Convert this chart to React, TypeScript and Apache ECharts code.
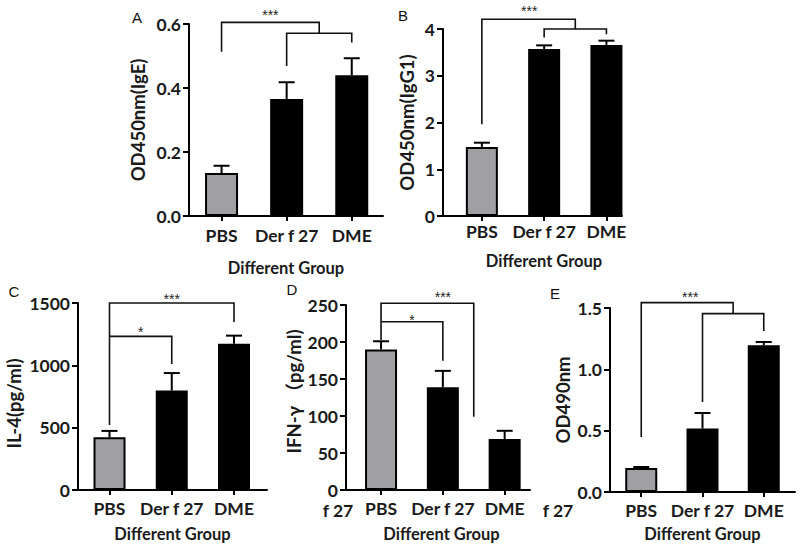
import React, { useEffect, useRef } from "react";
import * as echarts from "echarts";

const CATEGORIES = ["PBS", "Der f 27", "DME"];
const X_POS = [1, 2, 3];

const A_MEAN = [0.134, 0.366, 0.44];
const A_ERR = [0.023, 0.052, 0.053];
const B_MEAN = [1.478, 3.57, 3.66];
const B_ERR = [0.09, 0.08, 0.09];
const C_MEAN = [423, 798, 1173];
const C_ERR = [51, 140, 65];
const D_MEAN = [190, 139, 69];
const D_ERR = [11, 22, 11];
const E_MEAN = [0.196, 0.517, 1.196];
const E_ERR = [0.008, 0.127, 0.027];

// significance brackets (data units: [x, y] points)
const A_BRACKETS = [
  [[1, 0.513], [1, 0.605], [2.5, 0.605], [2.5, 0.571]],
  [[2, 0.469], [2, 0.571], [3, 0.571], [3, 0.542]],
];
const A_STARS = [[1.75, 0.64, "***"]];
const B_BRACKETS = [
  [[1, 1.96], [1, 4.21], [2.5, 4.21], [2.5, 4.0]],
  [[2, 3.82], [2, 4.0], [3, 4.0], [3, 3.89]],
];
const B_STARS = [[1.76, 4.47, "***"]];
const C_BRACKETS = [
  [[1, 522], [1, 1500], [3, 1500], [3, 1347]],
  [[1, 1232], [2, 1232], [2, 1010]],
];
const C_STARS = [[2, 1567, "***"], [1.5, 1299, "*"]];
const D_BRACKETS = [
  [[1, 202.7], [1, 252.3], [2.5, 252.3], [2.5, 99]],
  [[1, 227.4], [2, 227.4], [2, 174.7]],
];
const D_STARS = [[2, 265.8, "***"], [1.5, 235.5, "*"]];
const E_BRACKETS = [
  [[1, 0.448], [1, 1.544], [2.5, 1.544], [2.5, 1.454]],
  [[2, 0.733], [2, 1.454], [3, 1.454], [3, 1.312]],
];
const E_STARS = [[1.8, 1.622, "***"]];

const FONT = "Lato, 'Noto Sans CJK SC', sans-serif";

type Panel = {
  mean: number[];
  err: number[];
  brackets: number[][][];
  stars: any[];
  yName: string;
  yMax: number;
  yInterval: number;
  yDigits: number;
  grid: { left: number; top: number; width: number; height: number };
  xMin: number;
  xMax: number;
  yNameGap: number;
  yNameShiftDown: number;
  xNameGap: number;
  xLabelMargin: number;
  xNameShift: number;
  barWidth: number;
};

const PANELS: Panel[] = [
  {
    mean: A_MEAN, err: A_ERR, brackets: A_BRACKETS, stars: A_STARS,
    yName: "OD450nm(IgE)", yMax: 0.6, yInterval: 0.2, yDigits: 1,
    grid: { left: 189, top: 24, width: 194, height: 192 },
    xMin: 0.5, xMax: 3.48, yNameGap: 42, yNameShiftDown: 0, xNameGap: 43, xLabelMargin: 10, xNameShift: 0, barWidth: 33,
  },
  {
    mean: B_MEAN, err: B_ERR, brackets: B_BRACKETS, stars: B_STARS,
    yName: "OD450nm(IgG1)", yMax: 4, yInterval: 1, yDigits: 0,
    grid: { left: 443, top: 29, width: 179, height: 187 },
    xMin: 0.376, xMax: 3.25, yNameGap: 27, yNameShiftDown: 0, xNameGap: 36, xLabelMargin: 6, xNameShift: 11.5, barWidth: 32,
  },
  {
    mean: C_MEAN, err: C_ERR, brackets: C_BRACKETS, stars: C_STARS,
    yName: "IL-4(pg/ml)", yMax: 1500, yInterval: 500, yDigits: 0,
    grid: { left: 78, top: 303, width: 189, height: 187 },
    xMin: 0.494, xMax: 3.53, yNameGap: 55, yNameShiftDown: 7, xNameGap: 35, xLabelMargin: 9, xNameShift: 0, barWidth: 32,
  },
  {
    mean: D_MEAN, err: D_ERR, brackets: D_BRACKETS, stars: D_STARS,
    yName: "IFN-γ （pg/ml)", yMax: 250, yInterval: 50, yDigits: 0,
    grid: { left: 346, top: 305, width: 184, height: 185 },
    xMin: 0.433, xMax: 3.41, yNameGap: 41, yNameShiftDown: -6, xNameGap: 35, xLabelMargin: 9, xNameShift: 3.5, barWidth: 32,
  },
  {
    mean: E_MEAN, err: E_ERR, brackets: E_BRACKETS, stars: E_STARS,
    yName: "OD490nm", yMax: 1.5, yInterval: 0.5, yDigits: 1,
    grid: { left: 610, top: 308, width: 185, height: 184 },
    xMin: 0.49, xMax: 3.51, yNameGap: 38, yNameShiftDown: 0, xNameGap: 33, xLabelMargin: 9, xNameShift: 0, barWidth: 32,
  },
];

const LETTERS = [
  { t: "A", x: 137, y: 17 },
  { t: "B", x: 403, y: 15 },
  { t: "C", x: 14, y: 291 },
  { t: "D", x: 292, y: 289 },
  { t: "E", x: 555, y: 293 },
];
const STRAY = [
  { t: "f 27", x: 338, y: 510 },
  { t: "f 27", x: 558, y: 510 },
];

function buildOption() {
  const grid: any[] = [];
  const xAxis: any[] = [];
  const yAxis: any[] = [];
  const series: any[] = [];
  PANELS.forEach((p, i) => {
    grid.push({ ...p.grid, containLabel: false });
    const ns = p.xNameShift * 2;
    const ys = p.yNameShiftDown * 2;
    xAxis.push({
      type: "value",
      gridIndex: i,
      min: p.xMin,
      max: p.xMax,
      axisLine: { show: true, onZero: false, lineStyle: { color: "#000", width: 2 } },
      axisTick: { show: true, customValues: X_POS, length: 5, lineStyle: { color: "#000", width: 2 } },
      axisLabel: {
        customValues: X_POS,
        formatter: (v: number) => CATEGORIES[Math.round(v) - 1] || "",
        fontFamily: FONT, fontWeight: "bold", fontSize: 17.5, lineHeight: 18, color: "#1a1a1a", margin: p.xLabelMargin,
      },
      splitLine: { show: false },
      name: "Different Group",
      nameLocation: "middle",
      nameGap: p.xNameGap,
      nameTextStyle: {
        fontFamily: FONT, fontWeight: "bold", fontSize: 16.5, lineHeight: 18, color: "#1a1a1a",
        verticalAlign: "top", padding: [0, ns < 0 ? -ns : 0, 0, ns > 0 ? ns : 0],
      },
    });
    yAxis.push({
      type: "value",
      gridIndex: i,
      min: 0,
      max: p.yMax,
      interval: p.yInterval,
      axisLine: { show: true, lineStyle: { color: "#000", width: 2 } },
      axisTick: { show: true, length: 6, lineStyle: { color: "#000", width: 2 } },
      axisLabel: {
        formatter: (v: number) => v.toFixed(p.yDigits),
        fontFamily: FONT, fontWeight: "bold", fontSize: 17.5, color: "#1a1a1a", margin: 8,
      },
      splitLine: { show: false },
      name: p.yName,
      nameLocation: "middle",
      nameRotate: 90,
      nameGap: p.yNameGap,
      nameTextStyle: {
        fontFamily: FONT, fontWeight: "bold", fontSize: 18.5, color: "#1a1a1a",
        padding: [0, ys > 0 ? ys : 0, 0, ys < 0 ? -ys : 0],
      },
    });
    series.push({
      type: "bar",
      xAxisIndex: i,
      yAxisIndex: i,
      barWidth: p.barWidth,
      silent: true,
      data: p.mean.map((v, k) => ({
        value: [X_POS[k], v],
        itemStyle: { color: k === 0 ? "#a0a0a4" : "#000", borderColor: "#000", borderWidth: 2 },
      })),
    });
    series.push({
      type: "custom",
      xAxisIndex: i,
      yAxisIndex: i,
      silent: true,
      z: 5,
      data: p.mean.map((v, k) => [X_POS[k], v, p.err[k]]),
      encode: { x: 0, y: 1 },
      renderItem: (params: any, api: any) => {
        const x = api.value(0), y = api.value(1), e = api.value(2);
        const p0 = api.coord([x, y]);
        const p1 = api.coord([x, y + e]);
        const st = { stroke: "#000", lineWidth: 2 };
        return {
          type: "group",
          children: [
            { type: "line", shape: { x1: p0[0], y1: p0[1], x2: p1[0], y2: p1[1] }, style: st },
            { type: "line", shape: { x1: p1[0] - 8, y1: p1[1], x2: p1[0] + 8, y2: p1[1] }, style: st },
          ],
        };
      },
    });
    series.push({
      type: "custom",
      xAxisIndex: i,
      yAxisIndex: i,
      silent: true,
      clip: false,
      z: 6,
      data: p.brackets.map((b, k) => [b[0][0], b[0][1], k]),
      encode: { x: 0, y: 1 },
      renderItem: (params: any, api: any) => {
        const pts = p.brackets[params.dataIndex].map((q) => api.coord(q));
        return {
          type: "polyline",
          shape: { points: pts },
          style: { stroke: "#111", lineWidth: 1.6, fill: null },
        };
      },
    });
    series.push({
      type: "custom",
      xAxisIndex: i,
      yAxisIndex: i,
      silent: true,
      clip: false,
      z: 6,
      data: p.stars.map((s) => [s[0], s[1]]),
      encode: { x: 0, y: 1 },
      renderItem: (params: any, api: any) => {
        const c = api.coord([api.value(0), api.value(1)]);
        return {
          type: "text",
          x: c[0],
          y: c[1] + 4,
          style: {
            text: p.stars[params.dataIndex][2],
            fontFamily: "'Liberation Sans', Arial, sans-serif",
            fontSize: 14,
            fill: "#222",
            align: "center",
            verticalAlign: "middle",
          },
        };
      },
    });
  });

  const graphic: any[] = [
    ...LETTERS.map((l) => ({
      type: "text",
      x: l.x,
      y: l.y,
      style: {
        text: l.t, fontFamily: "'Liberation Sans', Arial, sans-serif", fontSize: 15,
        fill: "#111", align: "center", verticalAlign: "middle",
      },
    })),
    ...STRAY.map((l) => ({
      type: "text",
      x: l.x,
      y: l.y,
      style: {
        text: l.t, fontFamily: FONT, fontWeight: "bold", fontSize: 17.5,
        fill: "#1a1a1a", align: "center", verticalAlign: "middle",
      },
    })),
  ];

  return {
    animation: false,
    backgroundColor: "#fff",
    grid,
    xAxis,
    yAxis,
    series,
    graphic,
  };
}

export default function App() {
  const ref = useRef<HTMLDivElement>(null);
  useEffect(() => {
    if (!ref.current) return;
    const chart = echarts.init(ref.current, undefined, { renderer: "svg" });
    chart.setOption(buildOption() as any);
    return () => chart.dispose();
  }, []);
  return (
    <div
      ref={ref}
      style={{ position: "absolute", left: 0, top: 0, width: 800, height: 548, background: "#fff" }}
    />
  );
}
